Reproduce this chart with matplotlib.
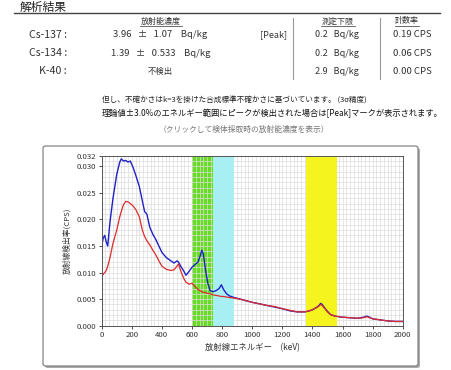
import matplotlib
matplotlib.use("Agg")
import matplotlib.pyplot as plt
import numpy as np
from matplotlib.lines import Line2D
from matplotlib.patches import FancyBboxPatch
from matplotlib.ticker import MultipleLocator

plt.rcParams['font.family'] = ['Noto Sans CJK JP', 'DejaVu Sans']

# --- data ---
energy = [0, 10, 20, 30, 40, 55, 75, 100, 120, 130, 145, 160, 175, 190, 210, 230,
          250, 270, 285, 300, 320, 340, 360, 380, 400, 430, 460, 480, 500, 510,
          525, 545, 560, 580, 600, 620, 640, 655, 665, 675, 690, 705, 720, 740,
          760, 780, 795, 810, 830, 850, 880, 920, 960, 1000, 1050, 1100, 1150,
          1200, 1250, 1300, 1350, 1380, 1400, 1420, 1440, 1455, 1465, 1480, 1500,
          1520, 1550, 1600, 1650, 1700, 1740, 1760, 1780, 1800, 1850, 1900, 1950, 2000]

blue_cps = [0.0150, 0.0165, 0.0170, 0.0158, 0.0150, 0.0195, 0.0240, 0.0285, 0.0308,
            0.0314, 0.0310, 0.0311, 0.0308, 0.0310, 0.0297, 0.0280, 0.0262, 0.0235,
            0.0215, 0.0210, 0.0185, 0.0172, 0.0162, 0.0150, 0.0138, 0.0128, 0.0122,
            0.0118, 0.0122, 0.0120, 0.0112, 0.0103, 0.0095, 0.0102, 0.0110, 0.0115,
            0.0120, 0.0132, 0.0142, 0.0135, 0.0105, 0.0080, 0.0066, 0.0064, 0.0066,
            0.0070, 0.0077, 0.0068, 0.0060, 0.0056, 0.0053, 0.0050, 0.0047, 0.0044,
            0.0041, 0.0038, 0.0035, 0.0032, 0.0028, 0.0026, 0.0026, 0.0028, 0.0030,
            0.0033, 0.0037, 0.0042, 0.0040, 0.0034, 0.0027, 0.0021, 0.0018, 0.0016,
            0.0015, 0.0014, 0.0016, 0.0018, 0.0016, 0.0013, 0.0011, 0.0009, 0.0008,
            0.0008]

red_cps = [0.0092, 0.0097, 0.0100, 0.0104, 0.0112, 0.0128, 0.0155, 0.0180, 0.0205,
           0.0215, 0.0228, 0.0234, 0.0233, 0.0230, 0.0225, 0.0217, 0.0205, 0.0180,
           0.0168, 0.0160, 0.0152, 0.0142, 0.0133, 0.0122, 0.0112, 0.0106, 0.0104,
           0.0105, 0.0112, 0.0116, 0.0103, 0.0089, 0.0082, 0.0078, 0.0080, 0.0074,
           0.0068, 0.0066, 0.0064, 0.0063, 0.0062, 0.0061, 0.0060, 0.0058, 0.0057,
           0.0056, 0.0055, 0.0055, 0.0054, 0.0053, 0.0052, 0.0050, 0.0047, 0.0044,
           0.0041, 0.0038, 0.0036, 0.0032, 0.0029, 0.0026, 0.0026, 0.0028, 0.0030,
           0.0033, 0.0036, 0.0040, 0.0038, 0.0033, 0.0026, 0.0021, 0.0018, 0.0016,
           0.0015, 0.0014, 0.0015, 0.0017, 0.0015, 0.0013, 0.0011, 0.0009, 0.0008,
           0.0008]

# energy windows (keV) and colours
bands = [(600, 740), (740, 880), (1360, 1565)]
band_colors = ['#66dd22', '#a8eff4', '#f6f41e']
band_z = [0.4, 1, 1]

nuclides = ['Cs-137 :', 'Cs-134 :', 'K-40 :']
activity = ['3.96   ±   1.07    Bq/kg', '1.39   ±   0.533    Bq/kg', '不検出']
peak_mark = ['[Peak]', '', '']
detect_limit = ['0.2   Bq/kg', '0.2   Bq/kg', '2.9   Bq/kg']
count_rate = ['0.19 CPS', '0.06 CPS', '0.00 CPS']

yticks = [0.000, 0.005, 0.010, 0.015, 0.020, 0.025, 0.030, 0.032]

W, H = 451, 370
fig = plt.figure(figsize=(W / 100, H / 100), dpi=100)


def fx(px):
    return px / W


def fy(py):
    return 1 - py / H


def txt(x, y, s, size=6.5, ha='left', color='#333333', **kw):
    fig.text(fx(x), fy(y), s, ha=ha, va='center', fontsize=size, color=color, **kw)


def hline(x0, x1, y, color='#555555', lw=0.8):
    fig.add_artist(Line2D([fx(x0), fx(x1)], [fy(y), fy(y)], color=color, lw=lw))


def vline(x, y0, y1, color='#999999', lw=0.8):
    fig.add_artist(Line2D([fx(x), fx(x)], [fy(y0), fy(y1)], color=color, lw=lw))


# header area
txt(20, 7, '解析結果', size=8.5, color='#222222')
hline(14, 440, 13, color='#444444', lw=1.0)

txt(161, 21, '放射能濃度', size=5.8, ha='center')
hline(140, 182, 25.5, color='#333333', lw=0.5)
txt(338, 21, '測定下限', size=5.8, ha='center')
hline(321, 355, 25.5, color='#333333', lw=0.5)
txt(407, 21, '計数率', size=5.8, ha='center')
hline(395, 419, 25.5, color='#333333', lw=0.5)
vline(293, 18, 79)
vline(380, 18, 79)

row_y = [34.5, 53, 71.5]
for i in range(3):
    y = row_y[i]
    txt(67, y, nuclides[i], size=7.6, ha='right')
    txt(160.5, y, activity[i], size=6.8 if i < 2 else 6, ha='center')
    txt(287, y, peak_mark[i], size=6.5, ha='right')
    txt(337, y, detect_limit[i], size=6.5, ha='center')
    txt(412, y, count_rate[i], size=6.8, ha='center')

txt(102, 101, '但し、不確かさはk=3を掛けた合成標準不確かさに基づいています。 (3σ精度)',
    size=5.5, color='#222222')
txt(102, 113, '理論値±3.0%のエネルギー範囲にピークが検出された場合は[Peak]マークが表示されます。',
    size=5.95, color='#111111')
txt(244, 130, '（クリックして検体採取時の放射能濃度を表示）', size=5.6, ha='center', color='#777777')

# chart panel
shadow = FancyBboxPatch((fx(45), fy(368)), fx(418) - fx(43), fy(146) - fy(366),
                        boxstyle='round,pad=0,rounding_size=0.006',
                        transform=fig.transFigure, facecolor='#aaaaaa', edgecolor='none', zorder=0)
panel = FancyBboxPatch((fx(43), fy(366)), fx(418) - fx(43), fy(146) - fy(366),
                       boxstyle='round,pad=0,rounding_size=0.006',
                       transform=fig.transFigure, facecolor='white', edgecolor='#777777',
                       lw=0.8, zorder=0)
fig.add_artist(shadow)
fig.add_artist(panel)
hline(210, 420, 369.5, color='#888888', lw=0.8)

ax = fig.add_axes([fx(101.7), fy(325.7), fx(402.7) - fx(101.7), fy(155.7) - fy(325.7)])
ax.set_zorder(2)
ax.set_xlim(0, 2000)
ax.set_ylim(0, 0.032)
ax.xaxis.set_major_locator(MultipleLocator(200))
ax.xaxis.set_minor_locator(MultipleLocator(25))
ax.set_yticks(yticks)
ax.set_yticklabels(['%.3f' % v for v in yticks])
ax.yaxis.set_minor_locator(MultipleLocator(0.001))
ax.grid(which='both', color='#dcdcdc', lw=0.5)
ax.set_axisbelow(True)
ax.tick_params(which='major', direction='out', length=2.5, width=0.6, labelsize=5.6,
               colors='#333333', pad=1.5)
ax.tick_params(which='minor', length=0)
for s in ax.spines.values():
    s.set_color('#555555')
    s.set_linewidth(0.7)

for (lo, hi), c, z in zip(bands, band_colors, band_z):
    ax.axvspan(lo, hi, color=c, lw=0, zorder=z)

ax.plot(energy, blue_cps, color='#2020c8', lw=1.0, zorder=2)
ax.plot(energy, red_cps, color='#dd2a2a', lw=0.9, zorder=2)

ax.set_xlabel('放射線エネルギー　(keV)', fontsize=6, color='#333333', labelpad=3)
ax.set_ylabel('放射線検出率(CPS)', fontsize=5.6, color='#333333', labelpad=4)

fig.savefig('out.png', dpi=100)
